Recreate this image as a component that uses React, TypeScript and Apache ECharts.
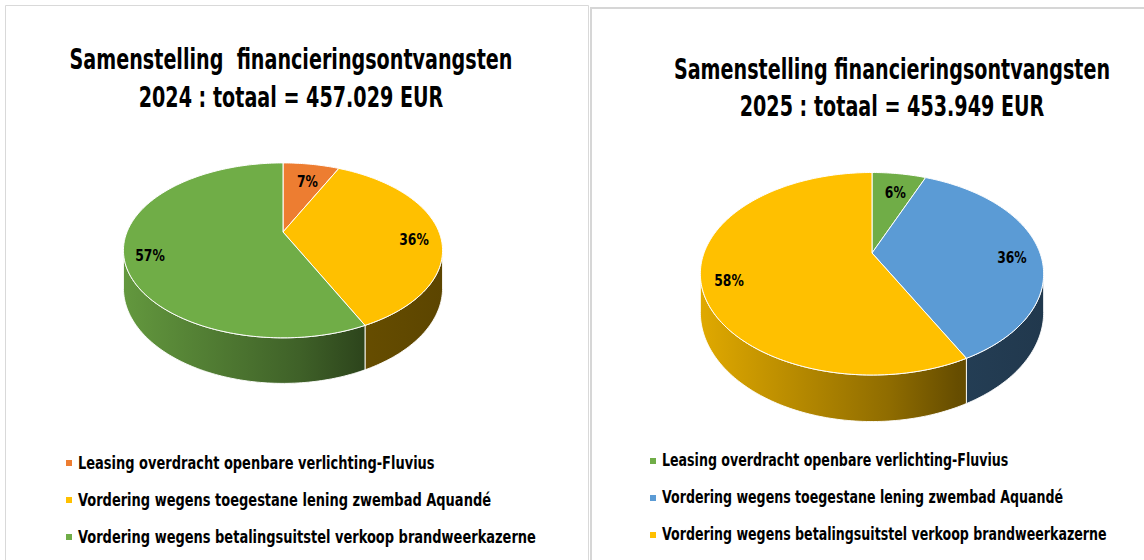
import React, { useEffect, useRef } from "react";
import * as echarts from "echarts";

// ---- data ----
const categories = [
  "Leasing overdracht openbare verlichting-Fluvius",
  "Vordering wegens toegestane lening zwembad Aquandé",
  "Vordering wegens betalingsuitstel verkoop brandweerkazerne",
];
const values2024 = [31992, 164530, 260507];
const values2025 = [28145, 164330, 261474];
const colors2024 = ["#ED7D31", "#FFC000", "#70AD47"];
const colors2025 = ["#70AD47", "#5B9BD5", "#FFC000"];
const title2024 = ["Samenstelling  financieringsontvangsten", "2024 : totaal = 457.029 EUR"];
const title2025 = ["Samenstelling financieringsontvangsten", "2025 : totaal = 453.949 EUR"];

const FONT = "'Liberation Sans Narrow', 'Arial Narrow', 'DejaVu Sans Condensed', sans-serif";

type Geo = { cx: number; cy: number; rx: number; ry: number; k: number; h: number };
const geo2024: Geo = { cx: 283, cy: 232, rx: 156, ry: 83.6, k: 0.21, h: 36 };
const geo2025: Geo = { cx: 872, cy: 253, rx: 168, ry: 97, k: 0.205, h: 37 };

function shade(hex: string, f: number) {
  const n = parseInt(hex.slice(1), 16);
  const r = Math.round(((n >> 16) & 255) * f);
  const g = Math.round(((n >> 8) & 255) * f);
  const b = Math.round((n & 255) * f);
  return `rgb(${r},${g},${b})`;
}

function makeSeries(name: string, values: number[], colors: string[], g: Geo) {
  const total = values.reduce((a, b) => a + b, 0);
  let acc = 0;
  const data = values.map((v, i) => {
    const d = { name: categories[i], value: [v, acc] };
    acc += v;
    return d;
  });
  const proj = (t: number, r: number, drop: number) => {
    const u = r * Math.sin(t);
    const v = -r * Math.cos(t);
    const s = 1 / (1 - g.k * v);
    return [g.cx + g.rx * u * s, g.cy + g.ry * v * s + drop * s];
  };
  const arc = (a: number, b: number, r: number, drop: number) => {
    const pts: number[][] = [];
    const n = Math.max(2, Math.ceil(((b - a) * 180) / Math.PI));
    for (let j = 0; j <= n; j++) pts.push(proj(a + ((b - a) * j) / n, r, drop));
    return pts;
  };
  const ts = Math.acos(-g.k);
  const te = 2 * Math.PI - ts;
  const wx = g.rx / Math.sqrt(1 - g.k * g.k);
  return {
    type: "custom",
    name,
    coordinateSystem: "none",
    data,
    renderItem: (params: any, api: any) => {
      const v = api.value(0);
      const before = api.value(1);
      const a0 = (before / total) * 2 * Math.PI;
      const a1 = ((before + v) / total) * 2 * Math.PI;
      const color = colors[params.dataIndex];
      const children: any[] = [];
      const s0 = Math.max(a0, ts);
      const s1 = Math.min(a1, te);
      if (s1 > s0) {
        const top = arc(s0, s1, 1, 0);
        const bot = arc(s0, s1, 1, g.h).reverse();
        children.push({
          type: "polygon",
          z2: 1,
          shape: { points: top.concat(bot) },
          style: {
            fill: {
              type: "linear",
              x: g.cx - wx,
              y: 0,
              x2: g.cx + wx,
              y2: 0,
              global: true,
              colorStops: [
                { offset: 0, color: shade(color, 0.88) },
                { offset: 0.55, color: shade(color, 0.56) },
                { offset: 0.75, color: shade(color, 0.4) },
                { offset: 1, color: shade(color, 0.36) },
              ],
            },
            stroke: "rgba(255,255,255,0.9)",
            lineWidth: 1,
          },
        });
      }
      const face = [proj(0, 0, 0)].concat(arc(a0, a1, 1, 0));
      children.push({
        type: "polygon",
        z2: 2,
        shape: { points: face },
        style: { fill: color, stroke: "#ffffff", lineWidth: 1 },
      });
      const mid = (a0 + a1) / 2;
      const lp = proj(mid, 0.84, 0);
      children.push({
        type: "text",
        z2: 3,
        x: lp[0],
        y: lp[1] + 8,
        scaleX: 0.86,
        style: {
          text: Math.round((v / total) * 100) + "%",
          fill: "#000",
          fontFamily: FONT,
          fontWeight: "bold",
          fontSize: 16,
          align: "center",
          verticalAlign: "middle",
        },
      });
      return { type: "group", children };
    },
  };
}

function legendGraphics(colors: string[], x: number, ys: number[], sx: number) {
  const out: any[] = [];
  categories.forEach((c, i) => {
    out.push({ type: "rect", shape: { x, y: ys[i] - 3, width: 6, height: 6 }, style: { fill: colors[i] } });
    out.push({
      type: "text",
      x: x + 12,
      y: ys[i],
      scaleX: sx,
      style: { text: c, fill: "#000", fontFamily: FONT, fontWeight: "bold", fontSize: 17, verticalAlign: "middle" },
    });
  });
  return out;
}

function titleGraphics(lines: string[], cx: number, ys: number[]) {
  return lines.map((t, i) => ({
    type: "text",
    x: cx,
    y: ys[i],
    scaleX: 0.76,
    style: { text: t, fill: "#000", fontFamily: FONT, fontWeight: "bold", fontSize: 28, align: "center", verticalAlign: "middle" },
  }));
}

export default function App() {
  const ref = useRef<HTMLDivElement>(null);
  useEffect(() => {
    if (!ref.current) return;
    const chart = echarts.init(ref.current, null, { renderer: "svg" });
    chart.setOption({
      animation: false,
      backgroundColor: "#ffffff",
      graphic: [
        { type: "rect", shape: { x: 5.5, y: 5.5, width: 583, height: 600 }, style: { fill: "none", stroke: "#d9d9d9", lineWidth: 1 } },
        { type: "rect", shape: { x: 591, y: 8, width: 600, height: 600 }, style: { fill: "none", stroke: "#d6d6d6", lineWidth: 2 } },
        ...titleGraphics(title2024, 291, [59, 97]),
        ...titleGraphics(title2025, 892, [69, 106]),
        ...legendGraphics(colors2024, 66, [463, 500, 537], 0.85),
        ...legendGraphics(colors2025, 650, [461, 498, 535], 0.825),
      ],
      series: [makeSeries("2024", values2024, colors2024, geo2024), makeSeries("2025", values2025, colors2025, geo2025)],
    });
    return () => chart.dispose();
  }, []);
  return <div ref={ref} style={{ position: "absolute", left: 0, top: 0, width: 1144, height: 560 }} />;
}
